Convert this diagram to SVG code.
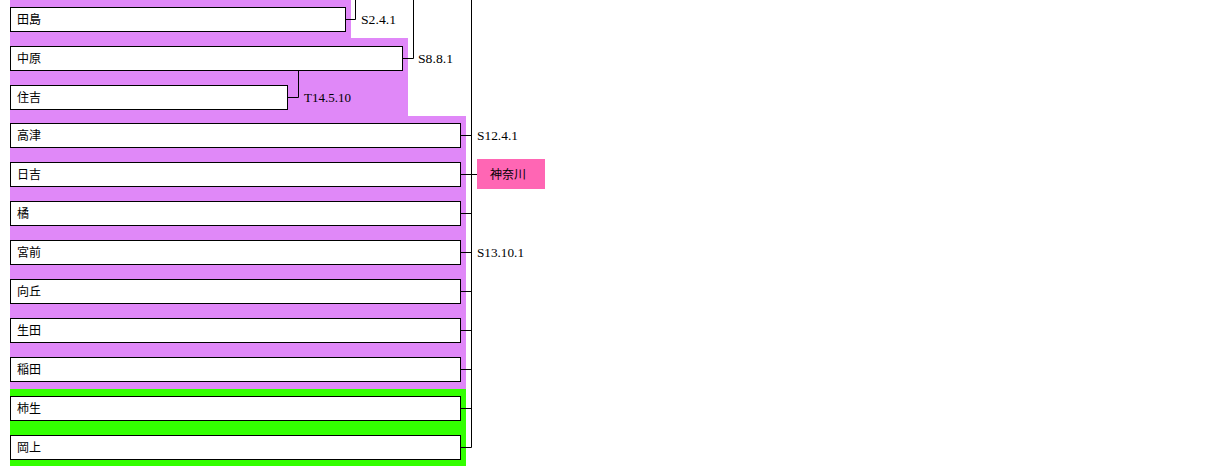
<svg xmlns="http://www.w3.org/2000/svg" width="1221" height="466" viewBox="0 0 1221 466">
<style>
.bg{fill:#ffffff}
.box{fill:#ffffff;stroke:#000000;stroke-width:1}
.nm{font-family:"Noto Sans CJK JP","Noto Sans CJK SC",sans-serif;font-size:12px;fill:#000000}
.lb{font-family:"Liberation Serif","DejaVu Serif",serif;font-size:13px;fill:#000000}
.ln{fill:none;stroke:#000000;stroke-width:1}
</style>
<rect class="bg" x="0" y="0" width="1221" height="466"/>
<g id="areas">
<path d="M10 0 H351 V38 H408 V116 H466 V389 H10 Z" fill="#E088F8"/>
<rect x="10" y="389" width="456" height="77" fill="#33FF00"/>
</g>
<g id="connectors">
<path class="ln" d="M345.5 19.5 H355.5 V0"/>
<path class="ln" d="M402.5 58.5 H413.5 V0"/>
<path class="ln" d="M287.5 97.5 H298.5 V70.5"/>
<path class="ln" d="M471.5 0 V447.5"/>
<path class="ln" d="M460.5 135.5 H471.5"/>
<path class="ln" d="M460.5 174.5 H482.5"/>
<path class="ln" d="M460.5 213.5 H471.5"/>
<path class="ln" d="M460.5 252.5 H471.5"/>
<path class="ln" d="M460.5 291.5 H471.5"/>
<path class="ln" d="M460.5 330.5 H471.5"/>
<path class="ln" d="M460.5 369.5 H471.5"/>
<path class="ln" d="M460.5 408.5 H471.5"/>
<path class="ln" d="M460.5 447.5 H471.5"/>
<text class="lb" x="361" y="24" textLength="35" lengthAdjust="spacingAndGlyphs">S2.4.1</text>
<text class="lb" x="418" y="63" textLength="35" lengthAdjust="spacingAndGlyphs">S8.8.1</text>
<text class="lb" x="304" y="102" textLength="47" lengthAdjust="spacingAndGlyphs">T14.5.10</text>
<text class="lb" x="477" y="140" textLength="41" lengthAdjust="spacingAndGlyphs">S12.4.1</text>
<text class="lb" x="477" y="257" textLength="47" lengthAdjust="spacingAndGlyphs">S13.10.1</text>
</g>
<g id="n-tajima"><rect class="box" x="10.5" y="7.5" width="335" height="24"/><text class="nm" x="17" y="24">田島</text></g>
<g id="n-nakahara"><rect class="box" x="10.5" y="46.5" width="392" height="24"/><text class="nm" x="17" y="63">中原</text></g>
<g id="n-sumiyoshi"><rect class="box" x="10.5" y="85.5" width="277" height="24"/><text class="nm" x="17" y="102">住吉</text></g>
<g id="n-takatsu"><rect class="box" x="10.5" y="123.5" width="450" height="24"/><text class="nm" x="17" y="140">高津</text></g>
<g id="n-hiyoshi"><rect class="box" x="10.5" y="162.5" width="450" height="24"/><text class="nm" x="17" y="179">日吉</text></g>
<g id="n-tachibana"><rect class="box" x="10.5" y="201.5" width="450" height="24"/><text class="nm" x="17" y="218">橘</text></g>
<g id="n-miyamae"><rect class="box" x="10.5" y="240.5" width="450" height="24"/><text class="nm" x="17" y="257">宮前</text></g>
<g id="n-mukaigaoka"><rect class="box" x="10.5" y="279.5" width="450" height="24"/><text class="nm" x="17" y="296">向丘</text></g>
<g id="n-ikuta"><rect class="box" x="10.5" y="318.5" width="450" height="24"/><text class="nm" x="17" y="335">生田</text></g>
<g id="n-inada"><rect class="box" x="10.5" y="357.5" width="450" height="24"/><text class="nm" x="17" y="374">稲田</text></g>
<g id="n-kakio"><rect class="box" x="10.5" y="396.5" width="450" height="24"/><text class="nm" x="17" y="413">柿生</text></g>
<g id="n-okagami"><rect class="box" x="10.5" y="435.5" width="450" height="24"/><text class="nm" x="17" y="452">岡上</text></g>
<g id="n-kanagawa"><rect x="477" y="159" width="68" height="30" fill="#FF66B4"/><text class="nm" x="490" y="179">神奈川</text></g>
</svg>
